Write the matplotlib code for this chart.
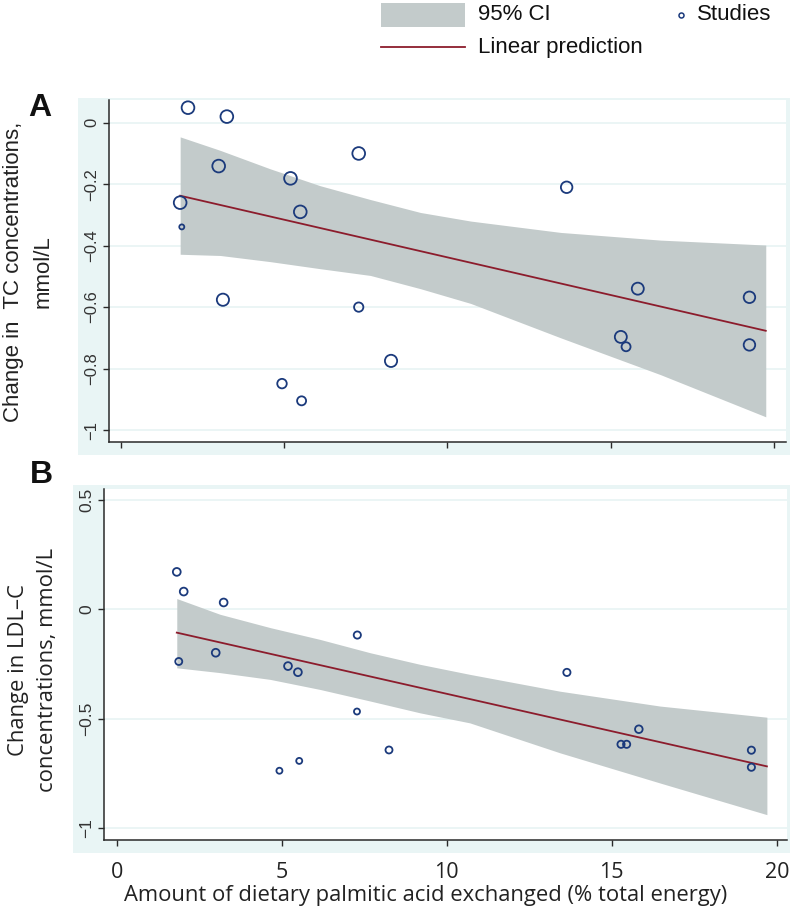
import matplotlib
matplotlib.use("Agg")
import matplotlib.pyplot as plt
from matplotlib.patches import Rectangle
from matplotlib.lines import Line2D

# ---------------- data ----------------
# Panel A: total cholesterol
a_x = [2.05, 3.24, 2.99, 1.81, 1.86, 5.19, 5.49, 7.28, 3.12, 7.28,
       8.27, 4.93, 5.53, 13.65, 15.83, 15.31, 15.47, 19.25, 19.25]
a_y = [0.049, 0.020, -0.141, -0.260, -0.339, -0.181, -0.290, -0.100, -0.576, -0.600,
       -0.775, -0.849, -0.905, -0.210, -0.540, -0.697, -0.729, -0.568, -0.723]
a_w = [12.7, 12.7, 12.7, 12.7, 5.0, 12.7, 12.7, 12.7, 12.2, 9.3,
       12.2, 9.5, 9.0, 11.5, 12.0, 12.0, 9.0, 11.5, 11.5]   # marker diameter (px) ~ weight
a_fit_x = [1.81, 19.75]
a_fit_y = [-0.2375, -0.677]
a_ci_x = [1.81, 3.04, 4.57, 6.10, 7.64, 9.17, 10.71, 13.47, 16.53, 19.75]
a_ci_hi = [-0.046, -0.090, -0.150, -0.205, -0.250, -0.292, -0.320, -0.357, -0.382, -0.398]
a_ci_lo = [-0.428, -0.432, -0.452, -0.475, -0.497, -0.540, -0.588, -0.700, -0.820, -0.957]
a_yticks = [0, -0.2, -0.4, -0.6, -0.8, -1]
a_yticklabels = ["0", "\u22120.2", "\u22120.4", "\u22120.6", "\u22120.8", "\u22121"]

# Panel B: LDL cholesterol
b_x = [1.82, 2.03, 3.24, 1.88, 3.00, 5.19, 5.49, 7.29, 7.28, 8.25,
       4.93, 5.53, 13.64, 15.82, 15.28, 15.45, 19.23, 19.23]
b_y = [0.171, 0.081, 0.031, -0.239, -0.199, -0.260, -0.288, -0.118, -0.468, -0.644,
       -0.739, -0.694, -0.289, -0.549, -0.618, -0.618, -0.645, -0.723]
b_w = [7.8, 7.8, 7.8, 7.0, 7.8, 7.8, 7.8, 7.2, 6.0, 7.0,
       6.0, 6.0, 7.2, 7.6, 7.2, 7.2, 7.2, 7.2]
b_fit_x = [1.82, 19.7]
b_fit_y = [-0.107, -0.719]
b_ci_x = [1.82, 3.13, 4.65, 6.16, 7.68, 9.19, 10.70, 13.43, 16.46, 19.70]
b_ci_hi = [0.049, -0.023, -0.084, -0.138, -0.199, -0.252, -0.298, -0.375, -0.443, -0.494]
b_ci_lo = [-0.268, -0.290, -0.321, -0.367, -0.420, -0.474, -0.520, -0.657, -0.795, -0.940]
b_yticks = [0.5, 0, -0.5, -1]
b_yticklabels = ["0.5", "0", "\u22120.5", "\u22121"]

x_ticks = [0, 5, 10, 15, 20]
x_ticklabels = ["0", "5", "10", "15", "20"]

# ---------------- style ----------------
W, H = 790, 909
BG = "#e9f5f5"
GRID = "#e8f4f4"
BAND = "#c3cbcb"
LINE = "#8c1c2c"
MARK = "#1b3a7c"
AX = "#2a2a2a"
ARIAL = ["Liberation Sans", "DejaVu Sans"]
OPEN = ["Open Sans", "DejaVu Sans"]

fig = plt.figure(figsize=(W / 100, H / 100), dpi=100)
fig.patch.set_facecolor("white")


def fx(px):
    return px / W


def fy(py):
    return 1 - py / H


def add_bg(x0, y0, x1, y1):
    fig.patches.append(Rectangle((fx(x0), fy(y1)), fx(x1) - fx(x0), fy(y0) - fy(y1),
                                 transform=fig.transFigure, facecolor=BG,
                                 edgecolor="none", zorder=-10))


def make_axes(x0, y0, x1, y1):
    ax = fig.add_axes([fx(x0), fy(y1), fx(x1) - fx(x0), fy(y0) - fy(y1)])
    ax.set_facecolor("white")
    for s in ["top", "right"]:
        ax.spines[s].set_visible(False)
    for s in ["left", "bottom"]:
        ax.spines[s].set_color(AX)
        ax.spines[s].set_linewidth(1.1)
    ax.tick_params(axis="both", direction="out", length=4.5, width=1.0, color=AX)
    ax.grid(axis="y", color=GRID, linewidth=1.2)
    ax.set_axisbelow(True)
    return ax


# ---------------- panel A ----------------
add_bg(78, 98, 790, 455)
axA = make_axes(109, 100, 786, 441.7)
axA.fill_between(a_ci_x, a_ci_lo, a_ci_hi, color=BAND, linewidth=0, zorder=1)
axA.plot(a_fit_x, a_fit_y, color=LINE, linewidth=1.3, zorder=2)
axA.scatter(a_x, a_y, s=[(d / 1.389) ** 2 for d in a_w], facecolors="none",
            edgecolors=MARK, linewidths=1.3, zorder=3)
axA.set_xlim(-0.37, 20.37)
axA.set_ylim(-1.038, 0.074)
axA.set_xticks(x_ticks)
axA.set_xticklabels([])
axA.set_yticks(a_yticks)
axA.set_yticklabels(a_yticklabels, rotation=90, va="center", family=ARIAL,
                    fontsize=12, color="#333333")
axA.tick_params(axis="y", pad=2.5)
fig.text(fx(28), fy(272), "Change in  TC concentrations,\nmmol/L", rotation=90,
         ha="center", va="center", multialignment="center", family=ARIAL,
         fontsize=16, color="#222222", linespacing=1.55)
fig.text(fx(40), fy(108), "A", ha="center", va="center", family=ARIAL,
         fontsize=23, fontweight="bold", color="#111111")

# ---------------- panel B ----------------
add_bg(72.7, 485, 790, 852.7)
axB = make_axes(104.3, 489.3, 786.7, 840)
axB.fill_between(b_ci_x, b_ci_lo, b_ci_hi, color=BAND, linewidth=0, zorder=1)
axB.plot(b_fit_x, b_fit_y, color=LINE, linewidth=1.3, zorder=2)
axB.scatter(b_x, b_y, s=[(d / 1.389) ** 2 for d in b_w], facecolors="none",
            edgecolors=MARK, linewidths=1.3, zorder=3)
axB.set_xlim(-0.376, 20.3)
axB.set_ylim(-1.056, 0.549)
axB.set_xticks(x_ticks)
axB.set_xticklabels(x_ticklabels, family=OPEN, fontsize=15.5, color="#222222")
axB.tick_params(axis="x", pad=11)
axB.set_yticks(b_yticks)
axB.set_yticklabels(b_yticklabels, rotation=90, va="center", family=ARIAL,
                    fontsize=12.5, color="#333333")
axB.tick_params(axis="y", pad=2.5)
fig.text(fx(33), fy(670), "Change in LDL\u2013C\nconcentrations, mmol/L", rotation=90,
         ha="center", va="center", multialignment="center", family=OPEN,
         fontsize=15.8, color="#222222", linespacing=1.5)
fig.text(fx(426), fy(896), "Amount of dietary palmitic acid exchanged (% total energy)",
         ha="center", va="center", family=OPEN, fontsize=15.8, color="#222222")
fig.text(fx(41), fy(475), "B", ha="center", va="center", family=ARIAL,
         fontsize=23, fontweight="bold", color="#111111")

# ---------------- legend ----------------
fig.patches.append(Rectangle((fx(381), fy(27)), fx(465) - fx(381), fy(3) - fy(27),
                             transform=fig.transFigure, facecolor=BAND, edgecolor="none"))
fig.text(fx(478), fy(15), "95% CI", ha="left", va="center", family=ARIAL,
         fontsize=16, color="#111111")
fig.lines.append(Line2D([fx(381), fx(465)], [fy(47), fy(47)], transform=fig.transFigure,
                        color=LINE, linewidth=1.3))
fig.text(fx(478), fy(47), "Linear prediction", ha="left", va="center", family=ARIAL,
         fontsize=16, color="#111111")
fig.lines.append(Line2D([fx(681)], [fy(15)], transform=fig.transFigure, marker="o",
                        markersize=3.6, markerfacecolor="none", markeredgecolor=MARK,
                        markeredgewidth=1.1, linestyle="none"))
fig.text(fx(697), fy(15), "Studies", ha="left", va="center", family=ARIAL,
         fontsize=16, color="#111111")

fig.savefig("out.png", dpi=100)
